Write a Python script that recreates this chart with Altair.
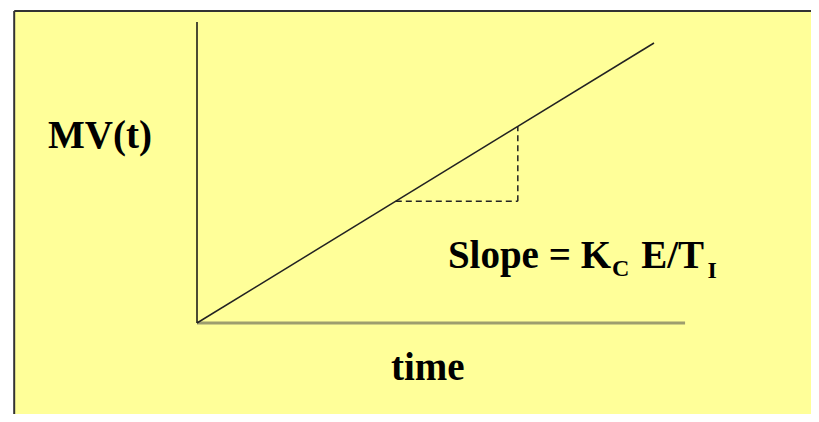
import altair as alt
import pandas as pd

# ---- data (abstract units: time on x, MV on y) ----
line_time = [0.0, 10.0]          # ramp start / end time
line_mv = [0.0, 10.0]            # ramp MV at those times
time_axis_end = [10.68]          # end of time axis
mv_axis_end = [10.75]            # top of MV axis
tri_time = [4.35, 7.02]          # slope triangle time span
labels = ["MV(t)", "time", "Slope = K", "C", "E/T", "I"]

# ---- layout scale (pixels per unit) ----
X_PX, Y_PX = 45.7, 28.0
ORIGIN_X, ORIGIN_Y = 189, 315
W, H = 803, 406
x_dom = [-ORIGIN_X / X_PX, (W - ORIGIN_X) / X_PX]
y_dom = [(ORIGIN_Y - H) / Y_PX, ORIGIN_Y / Y_PX]
xs = alt.Scale(domain=x_dom, nice=False, zero=False)
ys = alt.Scale(domain=y_dom, nice=False, zero=False)

def X(f="x"):
    return alt.X(f"{f}:Q", scale=xs, axis=None)

def Y(f="y"):
    return alt.Y(f"{f}:Q", scale=ys, axis=None)

# background panel (fill) and its top/left border
PANEL = {"x": -4.0, "x2": x_dom[1] + 1.0, "y": 11.14, "y2": y_dom[0] - 1.0}
box = alt.Chart(pd.DataFrame({"x": [PANEL["x"]], "x2": [PANEL["x2"]],
                              "y": [PANEL["y"]], "y2": [PANEL["y2"]]})).mark_rect(
    fill="#FFFF99", stroke="#FFFF99", strokeWidth=0, strokeOpacity=0
).encode(x=X(), x2="x2:Q", y=Y(), y2="y2:Q")
border_top = alt.Chart(pd.DataFrame({"x": [PANEL["x"]], "x2": [PANEL["x2"]], "y": [PANEL["y"]]})).mark_rule(
    color="#333333", strokeWidth=2
).encode(x=X(), x2="x2:Q", y=Y())
border_left = alt.Chart(pd.DataFrame({"x": [PANEL["x"]], "y": [PANEL["y"]], "y2": [PANEL["y2"]]})).mark_rule(
    color="#333333", strokeWidth=2
).encode(x=X(), y=Y(), y2="y2:Q")

# axes
haxis = alt.Chart(pd.DataFrame({"x": [0.0], "x2": time_axis_end, "y": [0.0]})).mark_rule(
    color="#9E9E6E", strokeWidth=3
).encode(x=X(), x2="x2:Q", y=Y())
vaxis = alt.Chart(pd.DataFrame({"x": [0.0], "y": [0.0], "y2": mv_axis_end})).mark_rule(
    color="#111111", strokeWidth=1.5
).encode(x=X(), y=Y(), y2="y2:Q")

# ramp
ramp = alt.Chart(pd.DataFrame({"x": line_time, "y": line_mv})).mark_line(
    color="#222222", strokeWidth=1.5
).encode(x=X(), y=Y())

# slope triangle (dashed)
tri_h = alt.Chart(pd.DataFrame({"x": [tri_time[0]], "x2": [tri_time[1]], "y": [tri_time[0]]})).mark_rule(
    color="#222222", strokeWidth=1.5, strokeDash=[6, 4]
).encode(x=X(), x2="x2:Q", y=Y())
tri_v = alt.Chart(pd.DataFrame({"x": [tri_time[1]], "y": [tri_time[0]], "y2": [tri_time[1]]})).mark_rule(
    color="#222222", strokeWidth=1.5, strokeDash=[6, 4]
).encode(x=X(), y=Y(), y2="y2:Q")

FONT = "Liberation Serif"
BIG, SUB = 39, 24

def txt(label, x, y, size, align="left"):
    return alt.Chart(pd.DataFrame({"x": [x], "y": [y], "t": [label]})).mark_text(
        font=FONT, fontSize=size, fontWeight="bold", color="#000000",
        align=align, baseline="alphabetic"
    ).encode(x=X(), y=Y(), text="t:N")

t_mv = txt(labels[0], -0.985, 6.25, BIG, "right")
t_time = txt(labels[1], 5.05, -2.04, BIG, "center")
t_slope = txt(labels[2], 5.49, 1.96, BIG)
t_c = txt(labels[3], 9.08, 1.68, SUB)
t_et = txt(labels[4], 9.72, 1.96, BIG)
t_i = txt(labels[5], 11.17, 1.61, SUB)

chart = alt.layer(
    box, border_top, border_left, haxis, vaxis, ramp, tri_h, tri_v,
    t_mv, t_time, t_slope, t_c, t_et, t_i
).properties(
    width=W, height=H, padding=0, autosize=alt.AutoSizeParams(type="none"), background="white"
).configure_view(stroke="transparent", strokeWidth=0)

chart.save("out.html", embed_options={"renderer": "svg", "actions": False})
